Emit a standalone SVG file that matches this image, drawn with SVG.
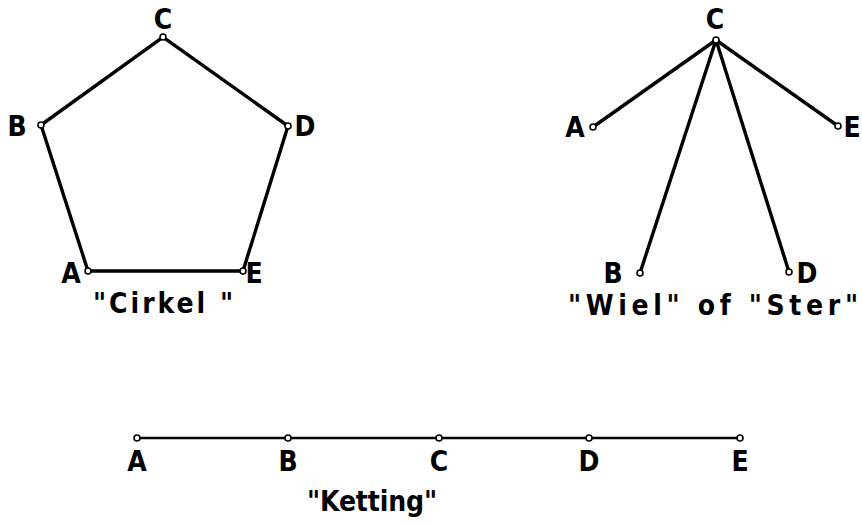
<svg xmlns="http://www.w3.org/2000/svg" width="862" height="526" viewBox="0 0 862 526">
<style>
.e{stroke:#000;stroke-width:3.4;stroke-linecap:round;fill:none}
.k{stroke:#000;stroke-width:2.6;fill:none}
.n{fill:#fff;stroke:#000;stroke-width:1.6}
.t{font-family:"DejaVu Sans Condensed","DejaVu Sans","Liberation Sans",sans-serif;font-stretch:condensed;font-size:28px;font-weight:bold;fill:#000;text-anchor:middle}
</style>
<rect width="862" height="526" fill="#fff"/>
<g id="connectors">
<polyline class="e" points="88,271 41,125 163,37 288,126 243,271 88,271"/>
<line class="e" x1="716" y1="40" x2="593" y2="127"/>
<line class="e" x1="716" y1="40" x2="838" y2="126"/>
<line class="e" x1="716" y1="40" x2="640" y2="273"/>
<line class="e" x1="716" y1="40" x2="789" y2="272"/>
<line class="k" x1="137" y1="438" x2="740" y2="438"/>
</g>
<g id="cirkel-A"><circle class="n" cx="88" cy="271" r="3"/><text class="t" x="71" y="283">A</text></g>
<g id="cirkel-B"><circle class="n" cx="41" cy="125" r="3"/><text class="t" x="17" y="136">B</text></g>
<g id="cirkel-C"><circle class="n" cx="163" cy="37" r="3"/><text class="t" x="163" y="29">C</text></g>
<g id="cirkel-D"><circle class="n" cx="288" cy="126" r="3"/><text class="t" x="305" y="136">D</text></g>
<g id="cirkel-E"><circle class="n" cx="243" cy="271" r="3"/><text class="t" x="254" y="283">E</text></g>
<text class="t" x="163" y="313" textLength="140" lengthAdjust="spacing">"Cirkel "</text>
<g id="wiel-A"><circle class="n" cx="593" cy="127" r="3"/><text class="t" x="575" y="137">A</text></g>
<g id="wiel-B"><circle class="n" cx="640" cy="273" r="3"/><text class="t" x="613" y="283">B</text></g>
<g id="wiel-C"><circle class="n" cx="716" cy="40" r="3"/><text class="t" x="715" y="29">C</text></g>
<g id="wiel-D"><circle class="n" cx="789" cy="272" r="3"/><text class="t" x="807" y="283">D</text></g>
<g id="wiel-E"><circle class="n" cx="838" cy="126" r="3"/><text class="t" x="852" y="137">E</text></g>
<text class="t" x="713" y="315" textLength="290" lengthAdjust="spacing">"Wiel" of "Ster"</text>
<g id="ketting-A"><circle class="n" cx="137" cy="438" r="3"/><text class="t" x="137" y="471">A</text></g>
<g id="ketting-B"><circle class="n" cx="288" cy="438" r="3"/><text class="t" x="288" y="471">B</text></g>
<g id="ketting-C"><circle class="n" cx="439" cy="438" r="3"/><text class="t" x="439" y="471">C</text></g>
<g id="ketting-D"><circle class="n" cx="589" cy="438" r="3"/><text class="t" x="589" y="471">D</text></g>
<g id="ketting-E"><circle class="n" cx="740" cy="438" r="3"/><text class="t" x="740" y="471">E</text></g>
<text class="t" x="372" y="511" textLength="130" lengthAdjust="spacing">"Ketting"</text>
</svg>
